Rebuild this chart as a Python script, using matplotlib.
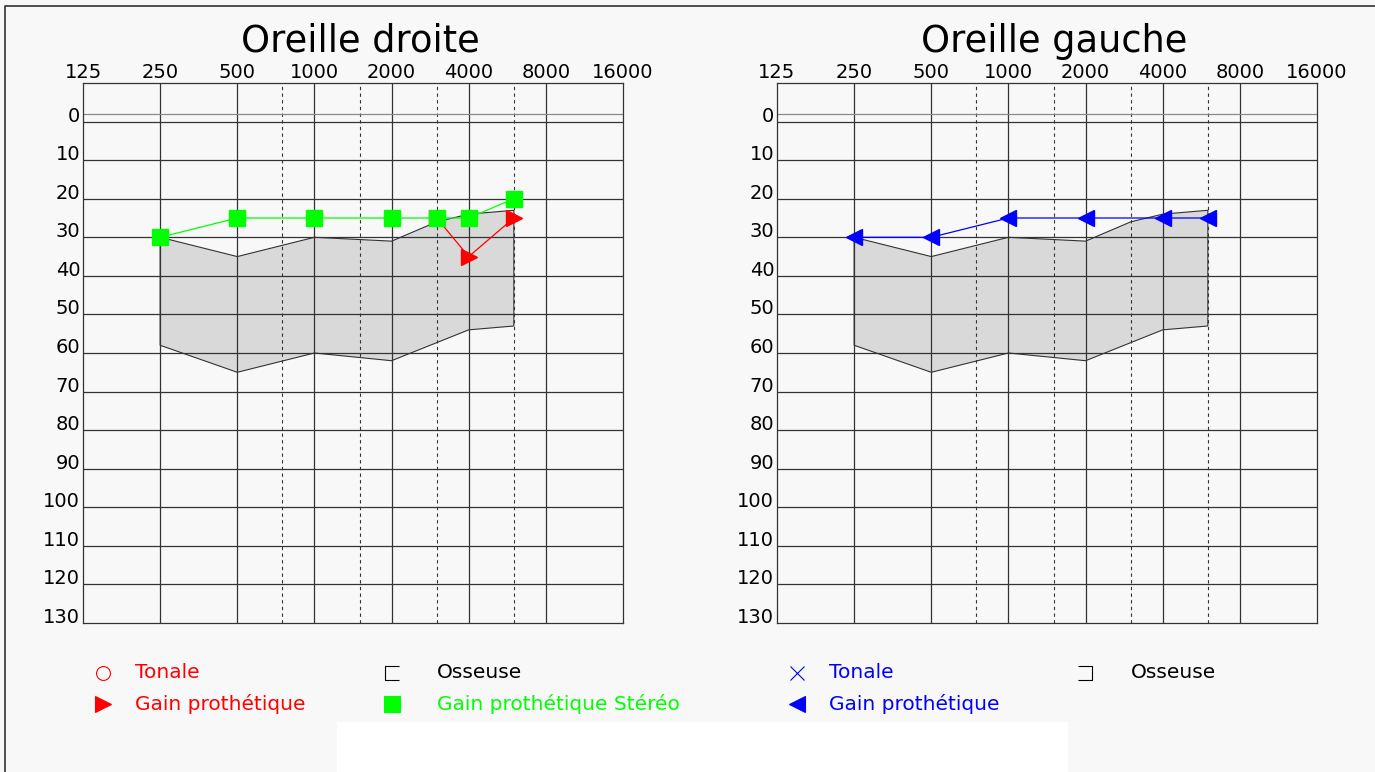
import matplotlib
matplotlib.use("Agg")
import matplotlib.pyplot as plt
from matplotlib.path import Path
from matplotlib.patches import Rectangle
from matplotlib.ticker import NullLocator

W, H = 1375, 772
BG = "#f8f8f8"
GRID = "#333333"
BAND = "#d9d9d9"
RED, GREEN, BLUE = "#ff0000", "#00ff00", "#0000ff"

FREQ_TICKS = [125, 250, 500, 1000, 2000, 4000, 8000, 16000]
FREQ_HALF = [750, 1500, 3000, 6000]
DB_TICKS = list(range(0, 140, 10))

# zone grisée (identique sur les deux oreilles)
BAND_UP_F = [250, 500, 1000, 2000, 3000, 4000, 6000]
BAND_UP_DB = [30, 35, 30, 31, 26, 24, 23]
BAND_LO_F = [250, 500, 1000, 2000, 4000, 6000]
BAND_LO_DB = [58, 65, 60, 62, 54, 53]

# oreille droite
R_STEREO_F = [250, 500, 1000, 2000, 3000, 4000, 6000]
R_STEREO_DB = [30, 25, 25, 25, 25, 25, 20]
R_GAIN_F = [3000, 4000, 6000]
R_GAIN_DB = [25, 35, 25]

# oreille gauche
L_GAIN_F = [250, 500, 1000, 2000, 4000, 6000]
L_GAIN_DB = [30, 30, 25, 25, 25, 25]


def fx(x):
    return x / W


def fy(y):
    return 1 - y / H


def audiogram(ax):
    ax.set_facecolor(BG)
    ax.set_xscale("log", base=2)
    ax.set_xlim(125, 16000)
    ax.set_ylim(130, -10)
    ax.xaxis.tick_top()
    ax.set_xticks(FREQ_TICKS)
    ax.set_xticklabels([str(f) for f in FREQ_TICKS])
    ax.xaxis.set_minor_locator(NullLocator())
    ax.tick_params(axis="x", length=0, pad=0.5, labelsize=14)
    ax.set_yticks(DB_TICKS)
    ax.tick_params(axis="y", length=0, pad=2, labelsize=14)
    for lab in ax.get_yticklabels():
        lab.set_verticalalignment("baseline")
    for f in FREQ_TICKS[1:-1]:
        ax.axvline(f, color=GRID, lw=0.9, zorder=2)
    for f in FREQ_HALF:
        ax.axvline(f, color=GRID, lw=0.8, ls=(0, (3, 3)), zorder=2)
    for d in DB_TICKS[:-1]:
        ax.axhline(d, color=GRID, lw=0.9, zorder=2)
    ax.axhline(-2, color="#8a8a8a", lw=0.9, zorder=2)
    for s in ax.spines.values():
        s.set_color(GRID)
        s.set_linewidth(0.9)
    ax.fill(BAND_UP_F + BAND_LO_F[::-1], BAND_UP_DB + BAND_LO_DB[::-1],
            fc=BAND, ec="#333333", lw=0.8, zorder=1)


fig = plt.figure(figsize=(W / 100, H / 100), dpi=100, facecolor=BG)

ax_r = fig.add_axes([fx(83), fy(623), 540 / W, 540 / H])
ax_l = fig.add_axes([fx(777), fy(623), 540 / W, 540 / H])
audiogram(ax_r)
audiogram(ax_l)

# oreille droite
ax_r.plot(R_GAIN_F, R_GAIN_DB, color=RED, lw=0.9, marker=">", ms=12,
          mec=RED, mfc=RED, zorder=4)
ax_r.plot(R_STEREO_F, R_STEREO_DB, color=GREEN, lw=0.9, marker="s", ms=12,
          mec=GREEN, mfc=GREEN, zorder=5)

# oreille gauche
ax_l.plot(L_GAIN_F, L_GAIN_DB, color=BLUE, lw=0.9, marker="<", ms=12,
          mec=BLUE, mfc=BLUE, zorder=5)

fig.text(fx(360), fy(41), "Oreille droite", fontsize=26.5, ha="center", va="center")
fig.text(fx(1054), fy(41), "Oreille gauche", fontsize=26.5, ha="center", va="center")

# calque pour légende, cadre et rectangle blanc (coordonnées pixel)
ov = fig.add_axes([0, 0, 1, 1], facecolor="none", zorder=10)
ov.set_xlim(0, W)
ov.set_ylim(H, 0)
ov.axis("off")
ov.plot([5, 5, W], [H, 6, 6], color="#333333", lw=1.2)
ov.add_patch(Rectangle((337, 722), 731, 60, fc="white", ec="none"))

bracket_l = Path([(0.5, 0.5), (-0.5, 0.5), (-0.5, -0.5), (0.5, -0.5)],
                 [Path.MOVETO, Path.LINETO, Path.LINETO, Path.LINETO])
bracket_r = Path([(-0.5, 0.5), (0.5, 0.5), (0.5, -0.5), (-0.5, -0.5)],
                 [Path.MOVETO, Path.LINETO, Path.LINETO, Path.LINETO])

legend_items = [
    # (x marqueur, y, marqueur, couleur, plein, texte, x texte)
    (103, 673, "o", RED, False, "Tonale", 135),
    (103, 704, ">", RED, True, "Gain prothétique", 135),
    (392, 673, bracket_l, "black", False, "Osseuse", 437),
    (392, 704, "s", GREEN, True, "Gain prothétique Stéréo", 437),
    (797, 673, "x", BLUE, False, "Tonale", 829),
    (797, 704, "<", BLUE, True, "Gain prothétique", 829),
    (1085, 673, bracket_r, "black", False, "Osseuse", 1131),
]
for mx, my, mk, col, filled, label, tx in legend_items:
    ov.plot([mx], [my], marker=mk, ms=10 if not filled else 12, mec=col,
            mfc=col if filled else "none", mew=0.8, color=col, ls="none")
    ov.text(tx, my, label, color=col, fontsize=14.5, ha="left", va="center")

fig.savefig("out.png", dpi=100, facecolor=BG)
